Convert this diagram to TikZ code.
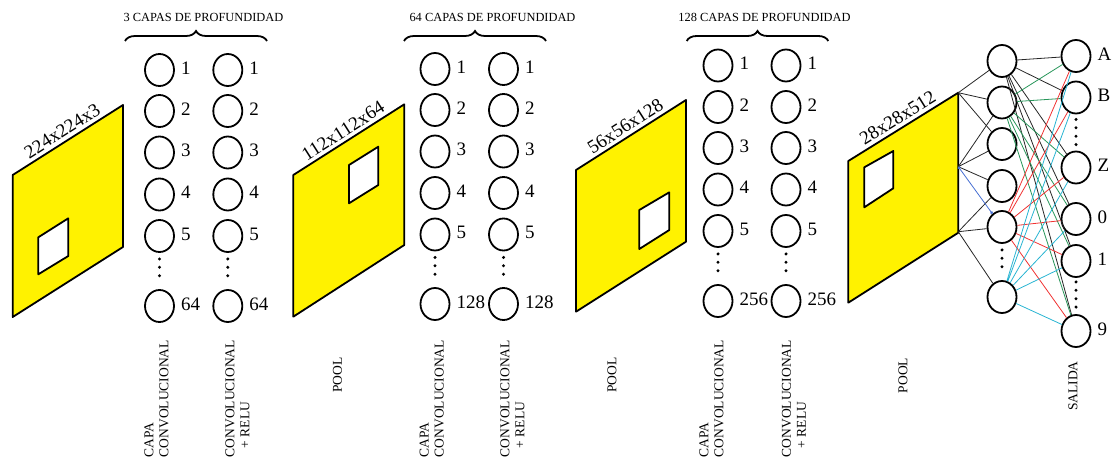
\documentclass[tikz,border=0pt]{standalone}
\usepackage{fontspec}
\setmainfont{Liberation Serif}
\usepackage{tikz}
\usetikzlibrary{shapes.geometric,decorations.pathreplacing,arrows.meta}

\definecolor{verde}{RGB}{40,150,90}
\definecolor{rojo}{RGB}{240,50,50}
\definecolor{cian}{RGB}{40,180,210}
\definecolor{azul}{RGB}{70,110,210}

\begin{document}
\begin{tikzpicture}[x=1pt,y=-1pt]
	\tikzstyle{neurona} = [draw=black, ellipse, line width=1.8pt, minimum width=29pt, minimum height=32pt, inner sep=0pt]
	\tikzstyle{num} = [font=\fontsize{19}{21}\selectfont, inner sep=2pt, label distance=4pt, yshift=2pt]
	\tikzstyle{capa} = [draw=black, fill=yellow, line width=1.8pt, line join=round]
	\tikzstyle{ventana} = [draw=black, fill=white, line width=1.8pt, line join=round]
	\tikzstyle{dim} = [midway, sloped, above, font=\fontsize{19}{21}\selectfont]
	\tikzstyle{titulo} = [font=\fontsize{12.4}{14}\selectfont]
	\tikzstyle{llave} = [decorate, decoration={brace, amplitude=10pt}, line width=1.8pt]
	\tikzstyle{rotulo} = [rotate=90, anchor=west, align=left, inner sep=0pt, font=\fontsize{13.5}{15}\selectfont]
	\tikzstyle{puntos} = [line width=3.3pt, dash pattern=on 0pt off 8.4pt, line cap=round]
	\tikzstyle{enlace} = [draw=black!85, line width=0.8pt]
	\useasboundingbox (0,0) rectangle (1112,463);

	% mapas de caracteristicas
	\draw[capa] (12.7,175) -- node[dim] {224x224x3} (123,105) -- (123,247) -- (12.7,317) -- cycle;
	\draw[ventana] (38.3,237.3) -- (68.3,218.3) -- (68.3,256) -- (38.3,274.3) -- cycle;
	\draw[capa] (293.3,175) -- node[dim] {112x112x64} (404.3,104.3) -- (404.3,245) -- (293.3,316.7) -- cycle;
	\draw[ventana] (349,165) -- (378.3,146.7) -- (378.3,185) -- (349,203.3) -- cycle;
	\draw[capa] (576,170) -- node[dim] {56x56x128} (686,100) -- (686,241.7) -- (576,311.7) -- cycle;
	\draw[ventana] (639.3,210) -- (669.3,192.3) -- (669.3,230) -- (639.3,249) -- cycle;
	\draw[capa] (848.3,161) -- node[dim] {28x28x512} (958.3,92.7) -- (958.3,232.7) -- (848.3,302.7) -- cycle;
	\draw[ventana] (864.3,167.3) -- (893.3,151) -- (893.3,188.3) -- (864.3,207.3) -- cycle;

	% bloque 1
	\node[titulo] (t1) at (203.5,17.3) {3 CAPAS DE PROFUNDIDAD};
	\draw[llave] (125,41) -- (267,41);
	\node[neurona] (a1) at (159.5,70)  [label={[num]right:1}] {};
	\node[neurona] (a2) at (159.5,111) [label={[num]right:2}] {};
	\node[neurona] (a3) at (159.5,152.5) [label={[num]right:3}] {};
	\node[neurona] (a4) at (159.5,194.5) [label={[num]right:4}] {};
	\node[neurona] (a5) at (159.5,236) [label={[num]right:5}] {};
	\node[neurona] (a6) at (159.5,306) [label={[num]right:64}] {};
	\node[neurona] (b1) at (227.8,70)  [label={[num]right:1}] {};
	\node[neurona] (b2) at (227.8,111) [label={[num]right:2}] {};
	\node[neurona] (b3) at (227.8,152.5) [label={[num]right:3}] {};
	\node[neurona] (b4) at (227.8,194.5) [label={[num]right:4}] {};
	\node[neurona] (b5) at (227.8,236) [label={[num]right:5}] {};
	\node[neurona] (b6) at (227.8,306) [label={[num]right:64}] {};
	\draw[puntos] ([yshift=-6pt]a5.south) -- ([yshift=6pt]a6.north);
	\draw[puntos] ([yshift=-6pt]b5.south) -- ([yshift=6pt]b6.north);
	\node[rotulo] (r1) at (156.5,457.3) {CAPA\\CONVOLUCIONAL};
	\node[rotulo] (r2) at (237.5,457.3) {CONVOLUCIONAL\\\hspace*{9pt}+ RELU};
	\node[rotulo, anchor=center] (p1) at (337.5,375) {POOL};

	% bloque 2
	\node[titulo] (t2) at (492.5,17.3) {64 CAPAS DE PROFUNDIDAD};
	\draw[llave] (404,41) -- (546,41);
	\node[neurona] (c1) at (435,69)  [label={[num]right:1}] {};
	\node[neurona] (c2) at (435,110) [label={[num]right:2}] {};
	\node[neurona] (c3) at (435,151.5) [label={[num]right:3}] {};
	\node[neurona] (c4) at (435,193) [label={[num]right:4}] {};
	\node[neurona] (c5) at (435,234.5) [label={[num]right:5}] {};
	\node[neurona] (c6) at (435,304) [label={[num]right:128}] {};
	\node[neurona] (d1) at (503.5,69)  [label={[num]right:1}] {};
	\node[neurona] (d2) at (503.5,110) [label={[num]right:2}] {};
	\node[neurona] (d3) at (503.5,151.5) [label={[num]right:3}] {};
	\node[neurona] (d4) at (503.5,193) [label={[num]right:4}] {};
	\node[neurona] (d5) at (503.5,234.5) [label={[num]right:5}] {};
	\node[neurona] (d6) at (503.5,304) [label={[num]right:128}] {};
	\draw[puntos] ([yshift=-6pt]c5.south) -- ([yshift=6pt]c6.north);
	\draw[puntos] ([yshift=-6pt]d5.south) -- ([yshift=6pt]d6.north);
	\node[rotulo] (r3) at (431.7,457.3) {CAPA\\CONVOLUCIONAL};
	\node[rotulo] (r4) at (512.5,457.3) {CONVOLUCIONAL\\\hspace*{9pt}+ RELU};
	\node[rotulo, anchor=center] (p2) at (612,375) {POOL};

	% bloque 3
	\node[titulo] (t3) at (764.5,17.3) {128 CAPAS DE PROFUNDIDAD};
	\draw[llave] (686.7,41) -- (828.3,41);
	\node[neurona] (e1) at (718,65.5) [label={[num]right:1}] {};
	\node[neurona] (e2) at (718,107)  [label={[num]right:2}] {};
	\node[neurona] (e3) at (718,148)  [label={[num]right:3}] {};
	\node[neurona] (e4) at (718,189.5) [label={[num]right:4}] {};
	\node[neurona] (e5) at (718,231)  [label={[num]right:5}] {};
	\node[neurona] (e6) at (718,301)  [label={[num]right:256}] {};
	\node[neurona] (f1) at (786,65.5) [label={[num]right:1}] {};
	\node[neurona] (f2) at (786,107)  [label={[num]right:2}] {};
	\node[neurona] (f3) at (786,148)  [label={[num]right:3}] {};
	\node[neurona] (f4) at (786,189.5) [label={[num]right:4}] {};
	\node[neurona] (f5) at (786,231)  [label={[num]right:5}] {};
	\node[neurona] (f6) at (786,301)  [label={[num]right:256}] {};
	\draw[puntos] ([yshift=-6pt]e5.south) -- ([yshift=6pt]e6.north);
	\draw[puntos] ([yshift=-6pt]f5.south) -- ([yshift=6pt]f6.north);
	\node[rotulo] (r5) at (711.5,457.3) {CAPA\\CONVOLUCIONAL};
	\node[rotulo] (r6) at (794,457.3) {CONVOLUCIONAL\\\hspace*{9pt}+ RELU};
	\node[rotulo, anchor=center] (p3) at (903,375.5) {POOL};

	% red de salida
	\coordinate (s1) at (958.3,92.7);
	\coordinate (s2) at (958.3,166.7);
	\coordinate (s3) at (958.3,231.7);
	\node[neurona] (h1) at (1002,61) {};
	\node[neurona] (h2) at (1002,102.5) {};
	\node[neurona] (h3) at (1002,144) {};
	\node[neurona] (h4) at (1002,186) {};
	\node[neurona] (h5) at (1002,227) {};
	\node[neurona] (h6) at (1002,297) {};
	\node[neurona] (oA) at (1076,56)    [label={[num]right:A}] {};
	\node[neurona] (oB) at (1076,97.5)  [label={[num]right:B}] {};
	\node[neurona] (oZ) at (1076,167.5) [label={[num]right:Z}] {};
	\node[neurona] (o0) at (1076,219)   [label={[num]right:0}] {};
	\node[neurona] (o1) at (1076,261)   [label={[num]right:1}] {};
	\node[neurona] (o9) at (1076,331)   [label={[num]right:9}] {};
	\draw[puntos] ([yshift=-6pt]h5.south) -- ([yshift=6pt]h6.north);
	\draw[puntos] ([yshift=-5pt]oB.south) -- ([yshift=6pt]oZ.north);
	\draw[puntos] ([yshift=-4pt]o1.south) -- ([yshift=6pt]o9.north);
	\node[rotulo, anchor=center] (sal) at (1073,386) {SALIDA};

	\draw[enlace] (s1) -- (h1);
	\draw[enlace] (s1) -- (h2);
	\draw[enlace] (s1) -- (h3);
	\draw[enlace] (s2) -- (h2);
	\draw[enlace] (s2) -- (h3);
	\draw[enlace] (s2) -- (h4);
	\draw[enlace] (s3) -- (h4);
	\draw[enlace] (s3) -- (h5);
	\draw[enlace] (s3) -- (h6);
	\draw[azul, line width=0.8pt, {Circle[length=2.8pt]}-{Circle[length=2.8pt]}] (s2) -- (h5);

	\draw[enlace] (h1) -- (oA) (h1) -- (oB) (h1) -- (oZ) (h1) -- (o0) (h1) -- (o1) (h1) -- (o9);
	\draw[verde, line width=0.8pt] (h2) -- (oA) (h2) -- (oB) (h2) -- (oZ) (h2) -- (o0) (h2) -- (o1) (h2) -- (o9);
	\draw[rojo, line width=0.8pt] (h5) -- (oA) (h5) -- (oB) (h5) -- (oZ) (h5) -- (o0) (h5) -- (o1) (h5) -- (o9);
	\draw[cian, line width=0.8pt] (h6) -- (oA) (h6) -- (oB) (h6) -- (oZ) (h6) -- (o0) (h6) -- (o1) (h6) -- (o9);
\end{tikzpicture}
\end{document}
